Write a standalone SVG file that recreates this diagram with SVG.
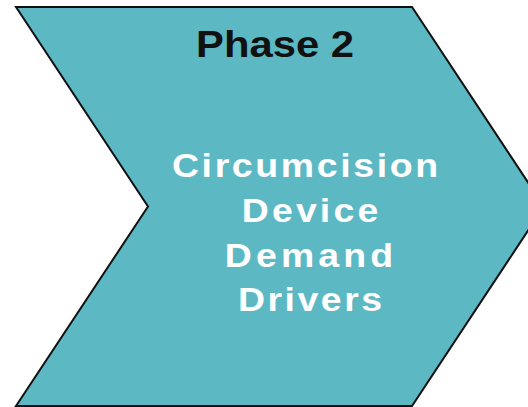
<svg xmlns="http://www.w3.org/2000/svg" width="528" height="407" viewBox="0 0 528 407">
  <style>
    .chev { fill: #5cb9c4; stroke: #111; stroke-width: 2; stroke-linejoin: miter; }
    .title { font-family: "Liberation Sans", Arial, sans-serif; font-weight: bold; font-size: 37px; fill: #111; text-anchor: middle; }
    .body { font-family: "Liberation Sans", Arial, sans-serif; font-weight: bold; font-size: 34px; fill: #fff; text-anchor: middle; }
  </style>
  <rect width="528" height="407" fill="#fff"/>
  <g id="phase2">
    <polygon class="chev" points="16,7 412,7 544,206.5 412,406 16,406 148,206.5"/>
    <text class="title" x="275" y="57" textLength="158" lengthAdjust="spacingAndGlyphs">Phase 2</text>
    <!-- body text widened slightly, then spaced out to fill each line -->
    <g transform="translate(308,0) scale(1.1,1) translate(-308,0)">
      <text class="body" x="305.3" y="177" textLength="242" lengthAdjust="spacing">Circumcision</text>
      <text class="body" x="309.8" y="222" textLength="124" lengthAdjust="spacing">Device</text>
      <text class="body" x="308.9" y="267" textLength="153" lengthAdjust="spacing">Demand</text>
      <text class="body" x="309.8" y="311" textLength="131" lengthAdjust="spacing">Drivers</text>
    </g>
  </g>
  <g id="connectors"></g>
</svg>
